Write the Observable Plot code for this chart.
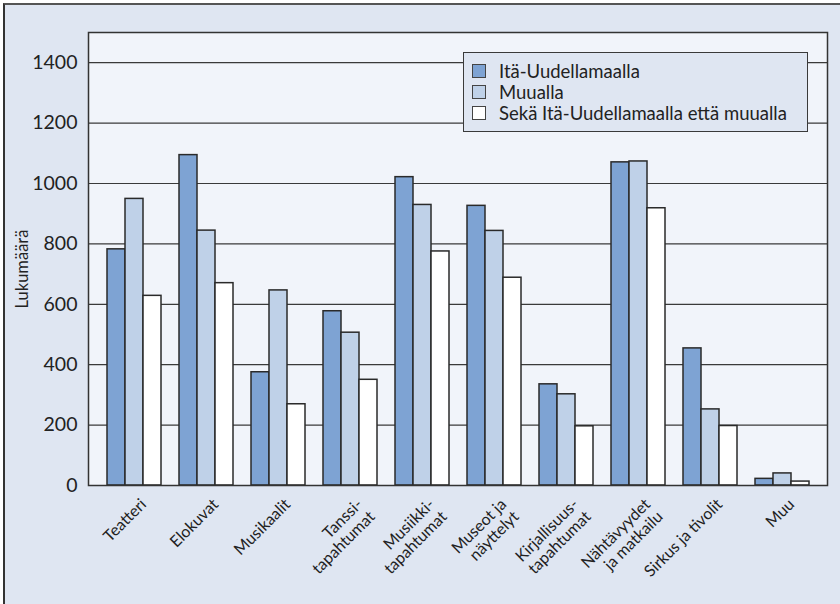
<!DOCTYPE html>
<html lang="fi">
<head>
<meta charset="utf-8">
<script src="https://cdn.jsdelivr.net/npm/d3@7"></script>
<script src="https://cdn.jsdelivr.net/npm/@observablehq/plot@0.6"></script>
<style>
  html, body { margin: 0; padding: 0; background: #ffffff; }
  #wrap { position: relative; width: 840px; height: 604px; overflow: hidden; font-family: Lato, "Open Sans", sans-serif; }
  #panel { position: absolute; left: 3px; top: 3px; width: 880px; height: 640px; background: #dfe6f2;
           border-top: 2px solid #555; border-left: 2px solid #333; }
  #chart { position: absolute; left: 0; top: 0; }
  #chart svg { background: transparent; }
  #legend { position: absolute; left: 463px; top: 52px; width: 345px; height: 80px; box-sizing: border-box;
            background: #dfe6f2; border: 1.5px solid #3a3a3a; padding: 7px 0 0 8px; }
  .row { display: flex; align-items: center; height: 21px; font-size: 18.5px; color: #222; }
  .sw { width: 12px; height: 12px; border: 1px solid #444; margin-right: 13px; flex: none; }
</style>
</head>
<body>
<div id="wrap">
  <div id="panel"></div>
  <div id="chart"></div>
  <div id="legend"></div>
</div>
<script>
// Kulttuuri- ja vapaa-ajan tapahtumat: missä niihin on osallistuttu
const categories = [
  "Teatteri",
  "Elokuvat",
  "Musikaalit",
  "Tanssi-\ntapahtumat",
  "Musiikki-\ntapahtumat",
  "Museot ja\nnäyttelyt",
  "Kirjallisuus-\ntapahtumat",
  "Nähtävyydet\nja matkailu",
  "Sirkus ja tivolit",
  "Muu"
];
const seriesNames = ["Itä-Uudellamaalla", "Muualla", "Sekä Itä-Uudellamaalla että muualla"];
const itaUusimaa = [782, 1094, 375, 577, 1021, 926, 335, 1070, 454, 22];
const muualla    = [949, 844, 646, 506, 929, 843, 302, 1073, 252, 40];
const molemmat   = [628, 670, 269, 350, 775, 688, 196, 918, 197, 13];
const seriesColors = ["#7ea3d3", "#bfd1e8", "#ffffff"];
const yTicks = [0, 200, 400, 600, 800, 1000, 1200, 1400];
const yLabel = "Lukumäärä";

const seriesValues = [itaUusimaa, muualla, molemmat];
const rows = seriesValues.map(vals => categories.map((c, i) => ({category: c, value: vals[i]})));

// Each category band holds three adjacent bars; insets split the band into thirds.
const thirds = [
  {insetLeft: 0, insetRight: 36},
  {insetLeft: 18, insetRight: 18},
  {insetLeft: 36, insetRight: 0}
];

const ink = "#222";
const chart = Plot.plot({
  width: 840,
  height: 604,
  marginLeft: 88,
  marginRight: 13,
  marginTop: 32,
  marginBottom: 119,
  style: {fontFamily: "Lato, 'Open Sans', sans-serif", color: ink, background: "transparent"},
  x: {domain: categories, paddingInner: 0.2527, paddingOuter: 0.24},
  y: {domain: [0, 1500]},
  marks: [
    Plot.frame({fill: "#f1f4fa"}),
    Plot.ruleY(yTicks, {stroke: "#3a3a3a", strokeWidth: 1.2}),
    ...rows.map((data, k) => Plot.barY(data, {
      x: "category",
      y: "value",
      fill: seriesColors[k],
      stroke: "#2a2a2a",
      strokeWidth: 1.5,
      ...thirds[k]
    })),
    Plot.frame({stroke: "#333", strokeWidth: 1.5}),
    Plot.axisY({
      ticks: yTicks,
      tickFormat: d => String(d),
      tickSize: 0,
      tickPadding: 11,
      fontSize: 19.5,
      fill: ink,
      label: null
    }),
    // Pystyakselin otsikko
    Plot.text([yLabel], {
      frameAnchor: "left",
      textAnchor: "middle",
      lineAnchor: "middle",
      rotate: -90,
      dx: -66,
      dy: 10,
      fontSize: 16.5,
      fill: ink
    }),
    Plot.axisX({
      tickSize: 0,
      tickPadding: 11,
      tickRotate: -45,
      textAnchor: "end",
      lineAnchor: "top",
      lineHeight: 1.1,
      dx: 4,
      fontSize: 16,
      fill: ink,
      label: null
    })
  ]
});
document.getElementById("chart").appendChild(chart);

// Selite
const legend = d3.select("#legend");
seriesNames.forEach((name, k) => {
  const row = legend.append("div").attr("class", "row");
  row.append("div").attr("class", "sw").style("background", seriesColors[k]);
  row.append("span").text(name);
});
</script>
</body>
</html>
